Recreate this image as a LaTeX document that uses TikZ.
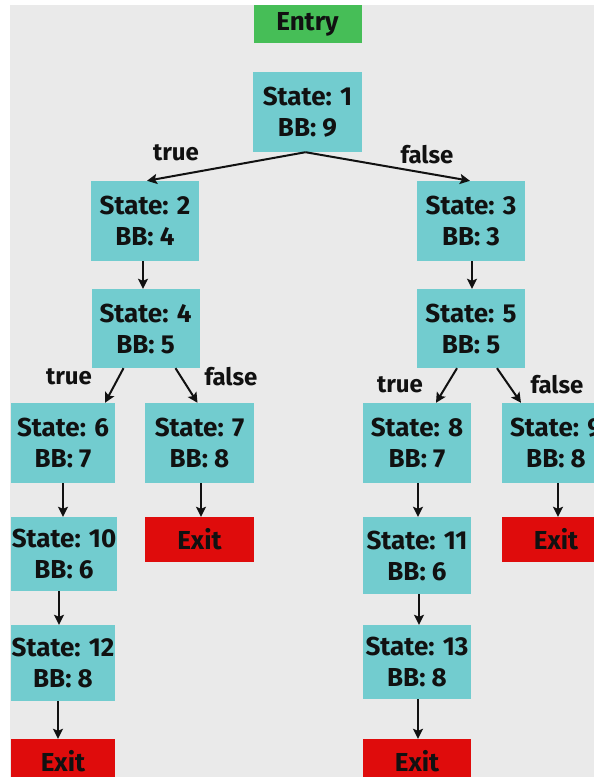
\documentclass[tikz,border=0pt]{standalone}
\usepackage{fontspec}
\setmainfont{Fira Sans}
\usetikzlibrary{arrows.meta,calc}
\definecolor{bgc}{HTML}{EAEAEA}
\definecolor{teal1}{HTML}{72CCCF}
\definecolor{green1}{HTML}{46BE57}
\definecolor{red1}{HTML}{DF0C0C}
\definecolor{ink}{HTML}{111111}
\tikzset{
  box/.style={rectangle, fill=teal1, inner sep=0pt, minimum width=108pt, minimum height=80pt,
    align=center, text=ink, font=\fontsize{26}{31}\selectfont\bfseries},
  exitbox/.style={box, fill=red1, minimum height=45pt},
  entrybox/.style={box, fill=green1, minimum height=38pt},
  conn/.style={draw=ink, line width=2pt, -{Stealth[length=10pt,width=10pt,inset=2pt]}},
  lbl/.style={text=ink, inner sep=0pt, font=\fontsize{24}{26}\selectfont\bfseries}
}
\begin{document}
\begin{tikzpicture}[x=1pt,y=-1pt]
\clip (0,0) rectangle (594,777);
\fill[white] (0,0) rectangle (594,777);
\fill[bgc] (10,5) rectangle (594,777);
% nodes
\node[entrybox] (entry) at (307.5,24) {Entry};
\node[box, minimum width=109pt] (s1) at (307.5,112) {State: 1\\BB: 9};
\node[box] (s2) at (145,221) {State: 2\\BB: 4};
\node[box] (s3) at (471,221) {State: 3\\BB: 3};
\node[box, minimum height=79pt] (s4) at (145.5,328.5) {State: 4\\BB: 5};
\node[box, minimum height=79pt] (s5) at (471,328.5) {State: 5\\BB: 5};
\node[box, minimum width=104pt] (s6) at (63,443) {State: 6\\BB: 7};
\node[box, minimum width=109pt] (s7) at (199.5,443) {State: 7\\BB: 8};
\node[box] (s8) at (417,443) {State: 8\\BB: 7};
\node[box] (s9) at (556,443) {State: 9\\BB: 8};
\node[exitbox, minimum width=109pt] (x7) at (199.5,539.5) {Exit};
\node[exitbox] (x9) at (556,539.5) {Exit};
\node[box, minimum width=106pt, minimum height=74pt] (s10) at (64,554) {State: 10\\BB: 6};
\node[box, minimum width=104pt, minimum height=76pt] (s12) at (63,663) {State: 12\\BB: 8};
\node[exitbox, minimum width=104pt] (xl) at (63,761.5) {Exit};
\node[box, minimum height=77pt] (s11) at (417,555.5) {State: 11\\BB: 6};
\node[box, minimum height=74pt] (s13) at (417,662) {State: 13\\BB: 8};
\node[exitbox] (xr) at (417,761.5) {Exit};
% labels
\node[lbl] (t1) at (176,153) {true};
\node[lbl] (f1) at (427,155) {false};
\node[lbl] (t4) at (69,377) {true};
\node[lbl] (f4) at (231,377) {false};
\node[lbl] (t5) at (400,385) {true};
\node[lbl] (f5) at (557,385) {false};
% connectors
\draw[conn] ([xshift=-2pt]s1.south) -- ([xshift=2pt]s2.north);
\draw[conn] ([xshift=-2pt]s1.south) -- ([xshift=-1pt]s3.north);
\draw[conn] ([xshift=-2pt]s2.south) -- ([xshift=-2.5pt]s4.north);
\draw[conn] ([xshift=1pt]s3.south) -- ([xshift=1pt]s5.north);
\draw[conn] ([xshift=-22pt]s4.south) -- ([xshift=42pt]s6.north);
\draw[conn] ([xshift=30pt]s4.south) -- ([xshift=-2pt]s7.north);
\draw[conn] ([xshift=-14pt]s5.south) -- ([xshift=19pt]s8.north);
\draw[conn] ([xshift=26pt]s5.south) -- ([xshift=-35pt]s9.north);
\draw[conn] (s6.south) -- ([xshift=-1pt]s10.north);
\draw[conn] ([xshift=-5pt]s10.south) -- ([xshift=-4pt]s12.north);
\draw[conn] ([xshift=-5pt]s12.south) -- ([xshift=-5pt]xl.north);
\draw[conn] ([xshift=1.5pt]s7.south) -- ([xshift=1.5pt]x7.north);
\draw[conn] ([xshift=2pt]s9.south) -- ([xshift=2pt]x9.north);
\draw[conn] ([xshift=1pt]s8.south) -- ([xshift=1pt]s11.north);
\draw[conn] ([xshift=2pt]s11.south) -- ([xshift=2pt]s13.north);
\draw[conn] ([xshift=1pt]s13.south) -- ([xshift=1pt]xr.north);
\end{tikzpicture}
\end{document}
